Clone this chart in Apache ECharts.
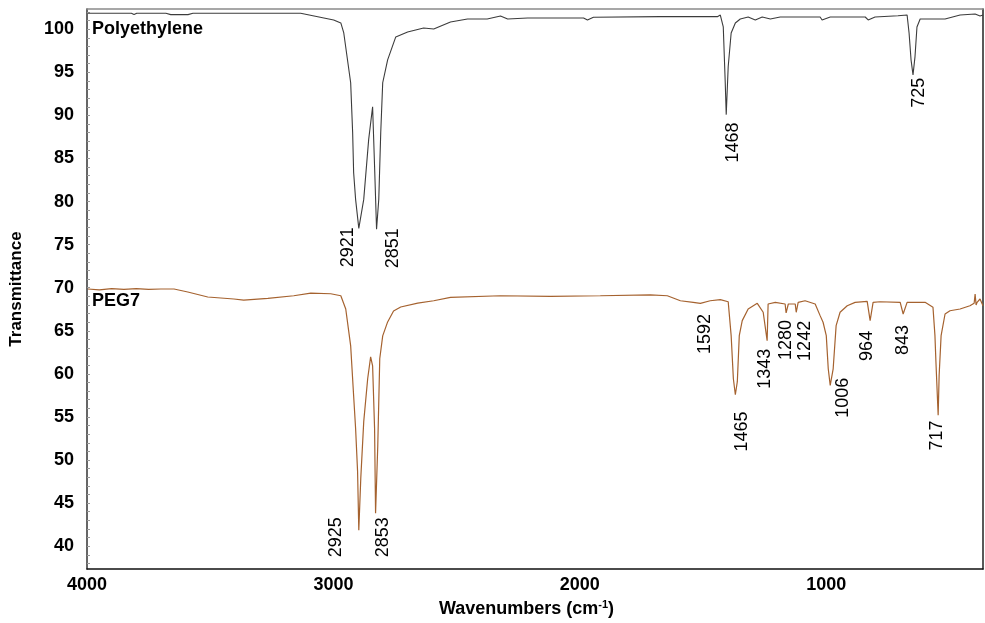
<!DOCTYPE html>
<html>
<head>
<meta charset="utf-8">
<script src="https://cdn.jsdelivr.net/npm/echarts@6/dist/echarts.min.js"></script>
<style>
  html, body { margin: 0; padding: 0; background: #fff; }
  #chart { width: 985px; height: 623px; }
</style>
</head>
<body>
<div id="chart"></div>
<script>
// Polyethylene spectrum (wavenumber, transmittance)
var peX = [3996,3820,3809,3798,3680,3660,3590,3570,3360,3355,3350,3133,2999,2970,2958,2930,2922,2918,2910,2897,2877,2857,2841,2833,2825,2816,2808,2800,2780,2747,2699,2634,2593,2525,2456,2390,2383,2376,2322,2293,2212,1985,1969,1945,1673,1442,1430,1418,1410,1406,1398,1386,1369,1349,1317,1288,1260,1227,1187,1025,1017,984,842,830,802,709,672,664,656,648,640,632,619,518,457,396,376,364];
var peY = [101.85,101.85,101.7,101.85,101.85,101.7,101.7,101.85,101.85,101.7,101.85,101.85,101.08,100.73,99.57,93.79,88.0,83.37,80.25,76.89,80.25,87.19,91.01,84.07,76.78,80.25,88.0,93.79,96.45,99.11,99.69,100.15,100.03,100.84,101.19,101.19,101.0,101.19,101.54,101.19,101.31,101.31,101.08,101.39,101.46,101.46,101.65,100.27,93.79,90.09,95.64,99.57,100.73,101.19,101.42,101.08,101.42,101.19,101.42,101.42,101.08,101.42,101.42,101.08,101.42,101.57,101.65,99.57,96.45,94.71,96.8,100.27,101.19,101.19,101.65,101.77,101.54,101.65];

// PEG7 spectrum
var pegX = [3996,3950,3900,3850,3800,3750,3700,3647,3591,3510,3404,3364,3266,3161,3092,3011,2970,2950,2930,2918,2910,2902,2897,2889,2877,2861,2849,2841,2833,2829,2820,2812,2800,2780,2756,2727,2658,2593,2525,2322,2119,1917,1714,1645,1592,1540,1511,1471,1430,1398,1386,1377,1369,1361,1353,1341,1317,1280,1256,1248,1240,1236,1207,1167,1163,1154,1126,1122,1114,1086,1045,1025,1013,1000,992,984,972,960,944,915,883,834,822,810,782,700,688,672,599,567,559,555,546,542,534,518,498,457,417,400,396,392,388,376,364];
var pegY = [69.85,69.75,69.9,69.8,69.9,69.8,69.85,69.85,69.5,68.92,68.69,68.57,68.77,69.07,69.38,69.3,69.07,67.53,63.25,57.47,53.65,48.68,41.85,47.87,54.46,59.43,61.98,60.94,53.65,43.82,51.68,61.75,64.41,66.03,67.3,67.76,68.22,68.49,68.88,69.07,69.0,69.07,69.18,69.07,68.49,68.3,68.19,68.49,68.61,68.37,64.44,59.43,57.58,59.09,64.44,66.18,67.53,68.19,67.15,66.95,63.86,68.11,68.3,68.11,67.07,68.11,68.11,67.15,68.3,68.49,68.11,66.76,65.99,64.44,60.59,58.66,60.59,65.6,67.15,67.91,68.3,68.42,66.18,68.3,68.37,68.3,66.95,68.3,68.3,67.73,64.44,61.37,55.19,59.82,64.44,66.95,67.33,67.53,67.91,68.2,69.27,68.0,68.3,68.69,67.91];

// peak annotations
var peakText = ['2921','2851','1468','725','2925','2853','1592','1465','1343','1280','1242','1006','964','843','717'];
var peakX = [2942,2760,1377,623,2991,2800,1491,1341,1248,1163,1086,932,834,688,550];
var peakY = [74.7,74.59,86.85,92.63,41.04,41.04,64.64,53.3,60.6,63.94,63.83,57.24,63.25,63.94,52.84];

var xTicks = [4000,3000,2000,1000];
var yTicks = [40,45,50,55,60,65,70,75,80,85,90,95,100];

var font = 'Arial, "Liberation Sans", sans-serif';

function zip(xs, ys){
	var out = [];
	for (var i = 0; i < xs.length; i++) {
		out.push([xs[i], ys[i]]);
	}
	return out;
}

var minorY = [];
for (var v = 38; v <= 102; v++) { minorY.push(v); }

var peakData = [];
for (var i = 0; i < peakText.length; i++) {
	peakData.push({ value: [peakX[i], peakY[i]], name: peakText[i] });
}

var myChart = echarts.init(document.getElementById('chart'));

var option = {
	animation: false,
	grid: { left: 86, right: 2, top: 9, bottom: 52 },
	xAxis: [{
		type: 'value',
		inverse: true,
		min: 364,
		max: 4000,
		name: '{a|Wavenumbers (cm}{s|-1}{a|)}',
		nameLocation: 'middle',
		nameGap: 24,
		nameTextStyle: {
			padding: [0, 17, 0, 0],
			rich: {
				a: { fontFamily: font, fontWeight: 'bold', fontSize: 18, color: '#000' },
				s: { fontFamily: font, fontWeight: 'bold', fontSize: 11, color: '#000', padding: [0, 0, 9, 0] }
			}
		},
		axisLine: { show: true, lineStyle: { color: '#111', width: 1.5 } },
		axisTick: { show: false },
		splitLine: { show: false },
		axisLabel: {
			customValues: xTicks,
			formatter: function(val){ return String(val); },
			margin: 7,
			fontFamily: font,
			fontWeight: 'bold',
			fontSize: 18,
			color: '#000'
		}
	}, {
		type: 'value',
		position: 'top',
		inverse: true,
		min: 364,
		max: 4000,
		axisLine: { show: true, lineStyle: { color: '#8a8a8a', width: 1.5 } },
		axisTick: { show: false },
		axisLabel: { show: false },
		splitLine: { show: false }
	}],
	yAxis: [{
		type: 'value',
		min: 37.34,
		max: 102.35,
		name: 'Transmittance',
		nameLocation: 'middle',
		nameGap: 62,
		nameTextStyle: { fontFamily: font, fontWeight: 'bold', fontSize: 17, color: '#000' },
		axisLine: { show: true, lineStyle: { color: '#333', width: 1.5 } },
		axisTick: {
			show: true,
			inside: true,
			length: 3,
			customValues: minorY,
			lineStyle: { color: '#999' }
		},
		splitLine: { show: false },
		axisLabel: {
			customValues: yTicks,
			formatter: function(val){ return String(val); },
			margin: 13,
			fontFamily: font,
			fontWeight: 'bold',
			fontSize: 18,
			color: '#000'
		}
	}, {
		type: 'value',
		position: 'right',
		min: 37.34,
		max: 102.35,
		axisLine: { show: true, lineStyle: { color: '#222', width: 1.5 } },
		axisTick: { show: false },
		axisLabel: { show: false },
		splitLine: { show: false }
	}],
	graphic: [
		{ type: 'text', left: 92, top: 20, style: { text: 'Polyethylene', font: 'bold 18px ' + font, fill: '#000' } },
		{ type: 'text', left: 92, top: 292, style: { text: 'PEG7', font: 'bold 18px ' + font, fill: '#000' } }
	],
	series: [{
		name: 'Polyethylene',
		type: 'line',
		data: zip(peX, peY),
		showSymbol: false,
		lineStyle: { color: '#3c3c3c', width: 1.1 }
	}, {
		name: 'PEG7',
		type: 'line',
		data: zip(pegX, pegY),
		showSymbol: false,
		lineStyle: { color: '#a5622f', width: 1.2 }
	}, {
		name: 'peaks',
		type: 'scatter',
		data: peakData,
		symbolSize: 0,
		itemStyle: { opacity: 1 },
		label: {
			show: true,
			position: 'inside',
			rotate: 90,
			formatter: function(p){ return p.name; },
			fontFamily: font,
			fontSize: 18,
			color: '#000',
			opacity: 1,
			textBorderWidth: 0
		}
	}]
};

myChart.setOption(option);
</script>
</body>
</html>
